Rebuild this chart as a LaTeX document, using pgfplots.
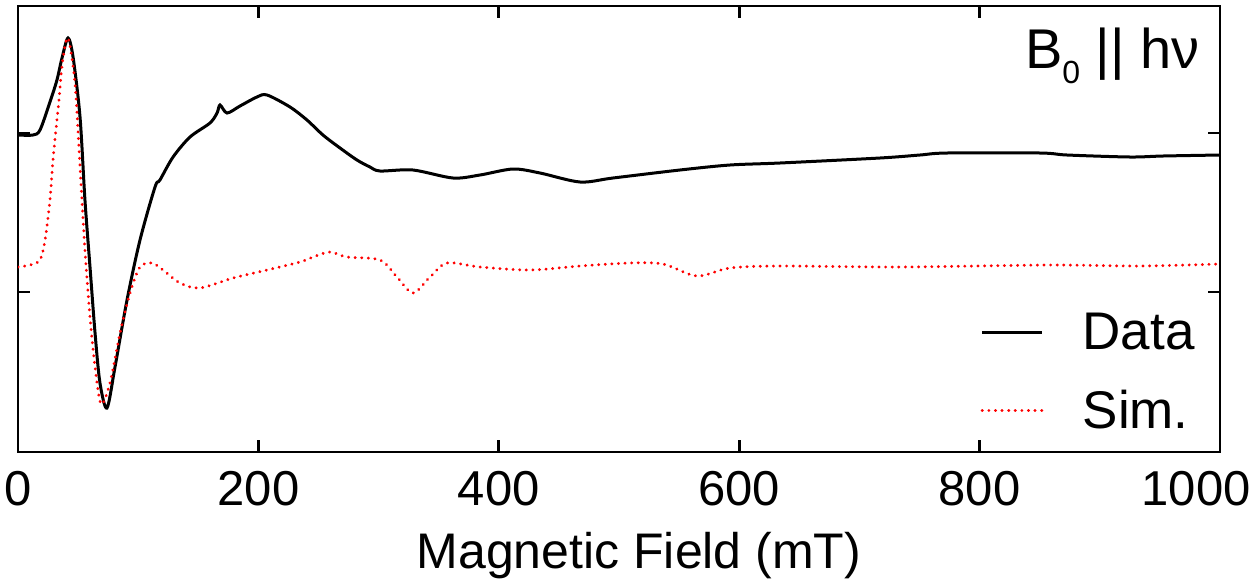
\documentclass[border=0pt]{standalone}
\usepackage{fontspec}
\setmainfont{Liberation Sans}
\usepackage{pgfplots}
\pgfplotsset{compat=1.18}

\begin{document}
\begin{tikzpicture}
\begin{axis}[
    scale only axis,
    width=601pt,
    height=223pt,
    xmin=0, xmax=1000,
    ymin=0, ymax=446,
    xtick={0,200,400,600,800,1000},
    xticklabels={0,200,400,600,800,{\makebox[0pt]{\hspace*{-24pt}1000}}},
    ytick={160,319},
    yticklabels={},
    axis line style={line width=1.4pt, black},
    tick style={line width=1.4pt, black},
    major tick length=6pt,
    /pgf/number format/assume math mode=true,
    tick label style={font=\fontsize{24.5}{28}\selectfont},
    xticklabel style={anchor=base, inner sep=0pt, yshift=-26.5pt},
    xlabel={Magnetic Field (mT)},
    xlabel style={font=\fontsize{25}{30}\selectfont, at={(axis description cs:0.5,0)},
        anchor=base, yshift=-58pt, xshift=10pt},
    legend style={draw=none, fill=none, inner sep=0pt,
        at={(axis description cs:1,0)}, anchor=south east,
        xshift=-12.5pt, yshift=10pt,
        font=\fontsize{26.5}{30}\selectfont,
        row sep=19pt,
        nodes={inner sep=0pt},
        cells={anchor=west},
        /tikz/every odd column/.append style={column sep=19.5pt}},
    legend image code/.code={\draw[#1] (0pt,0pt) -- (30pt,0pt);},
]

% measured trace
\addplot[black, line width=1.5pt, smooth, tension=0.5] coordinates {
    (0,317) (12.5,317) (18.3,322) (26.6,350) (32.4,372) (36.6,394)
    (41.6,414) (45.8,395) (51.6,335) (55.7,252) (59.9,185) (64.1,119)
    (68.2,69) (74.0,44) (80.7,85) (90.7,152) (101.5,212) (114.0,265)
    (118.1,272) (129.0,295) (143.1,315) (159.7,329) (165.6,339) (168.1,347)
    (173.9,339) (184.7,346) (198.8,355) (207.2,357) (226.3,345) (240.4,332)
    (253.7,317) (267.9,304) (282.0,292) (292.8,285) (301.2,281) (328.6,282)
    (361.9,274) (384.4,277) (411.8,283) (434.3,279) (467.6,270) (495.0,274)
    (550.7,282) (592.3,287) (633.9,289) (717.1,294) (750.4,297) (772.9,299)
    (850.2,299) (872.7,297) (925.1,295) (952.6,296) (1000,297)
};
\addlegendentry{Data}

% simulation
\addplot[red, line width=1.5pt, line cap=round, dash pattern=on 0.1pt off 3.2pt,
    smooth, tension=0.5] coordinates {
    (0,185) (10.0,187) (18.3,192) (22.5,212) (26.6,252) (29.1,292)
    (32.4,332) (34.1,352) (37.0,390) (41.6,414) (47.4,369) (51.6,285)
    (55.7,202) (59.9,135) (64.1,85) (69.1,48) (76.5,69) (84.9,119)
    (93.2,159) (101.5,185) (111.5,189) (120.6,182) (134.8,169) (151.4,164)
    (178.9,174) (207.2,182) (234.6,190) (245.4,195) (259.6,200) (273.7,195)
    (301.2,192) (315.3,175) (328.6,159) (342.8,175) (356.9,189) (384.4,185)
    (426.0,182) (467.6,186) (509.2,189) (536.6,188) (564.9,176) (592.3,184)
    (633.9,186) (733.8,185) (858.6,187) (933.4,186) (1000,188)
};
\addlegendentry{Sim.}

\node[anchor=north east, inner sep=0pt, font=\fontsize{28}{32}\selectfont]
    at (rel axis cs:1,1) [xshift=-10pt, yshift=-11pt]
    {B\raisebox{-7.5pt}{\fontsize{16}{16}\selectfont 0} || hν};

\end{axis}
\pgfresetboundingbox
\path[use as bounding box] ([xshift=-9pt,yshift=-67pt]current axis.south west)
    rectangle ([xshift=19pt,yshift=3pt]current axis.north east);
\end{tikzpicture}
\end{document}
